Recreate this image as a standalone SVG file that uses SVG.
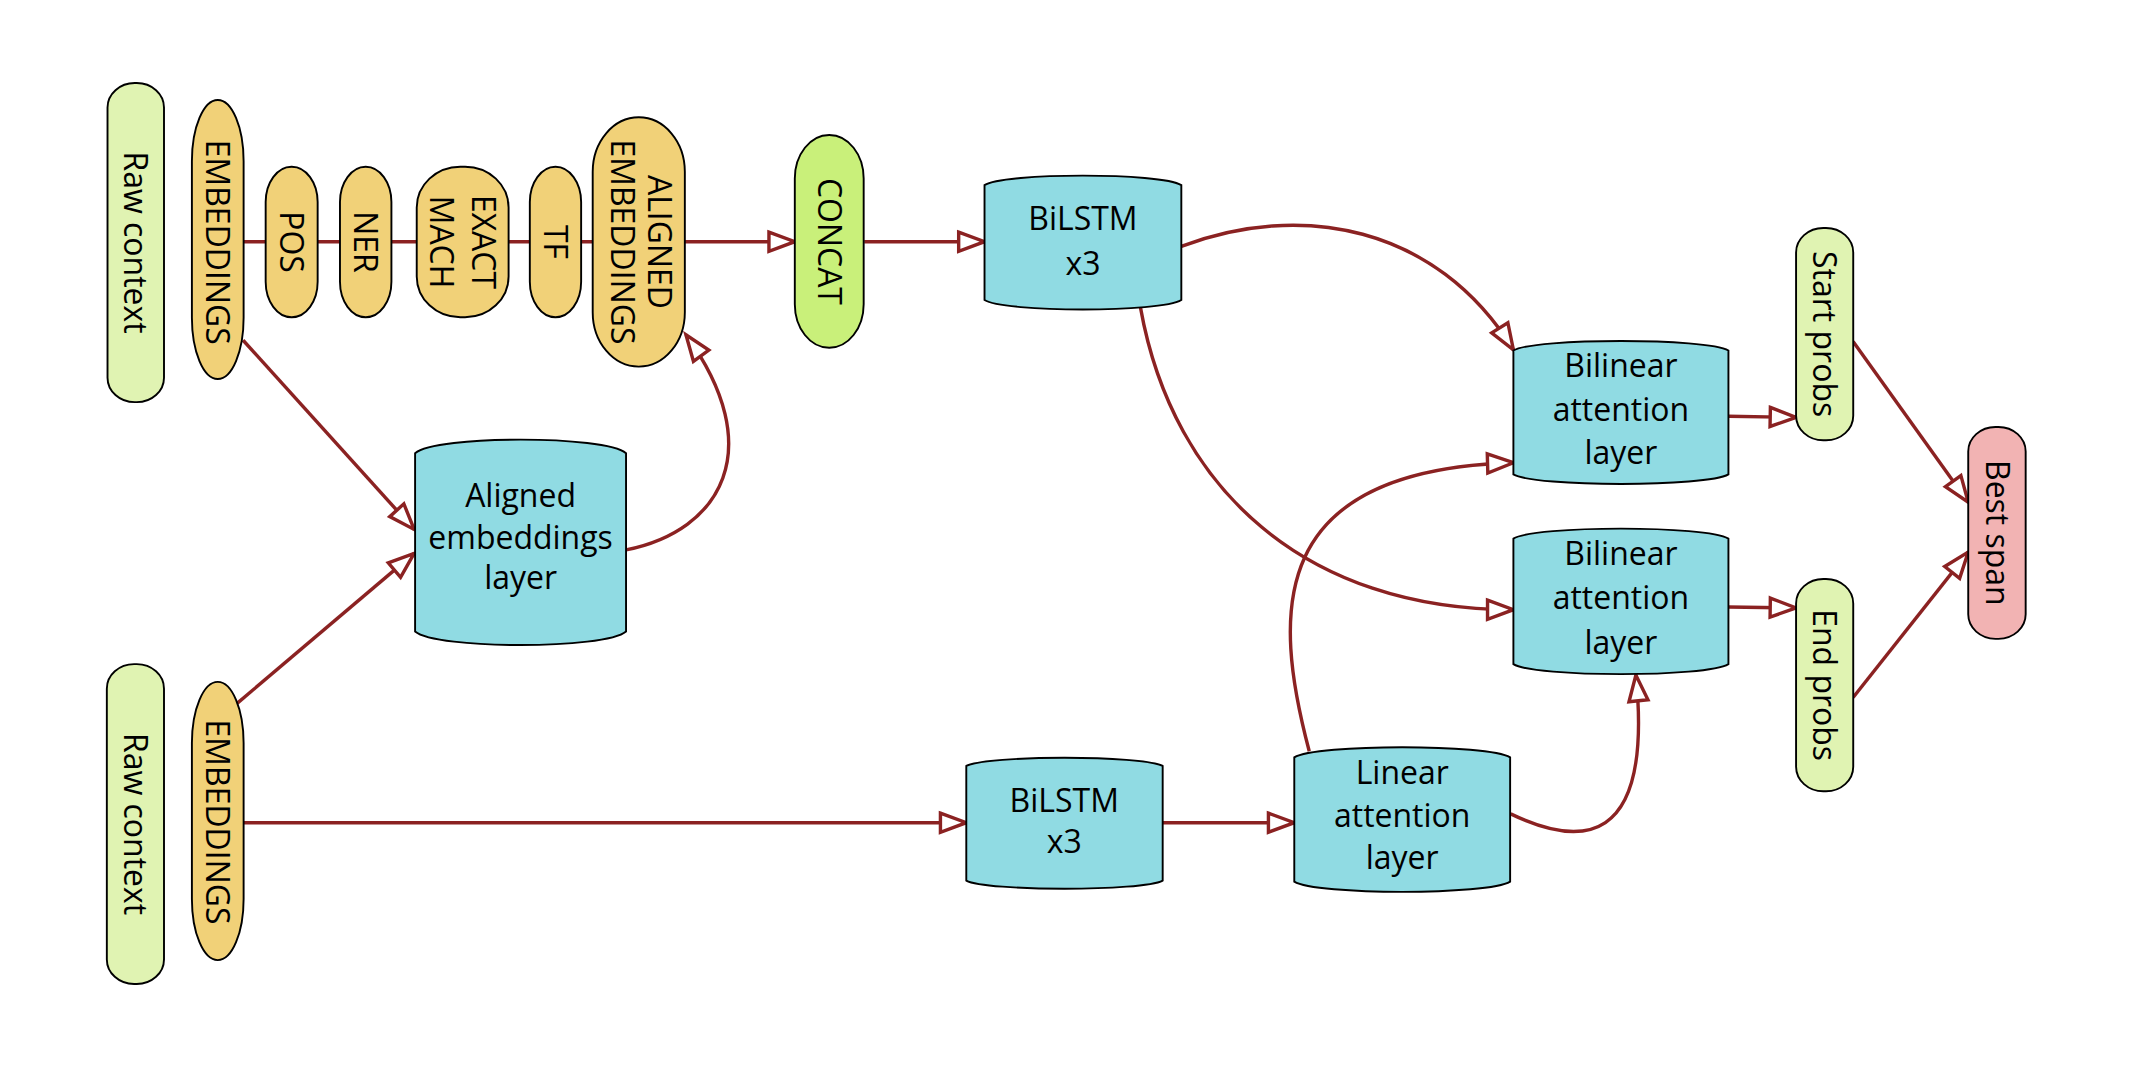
<svg xmlns="http://www.w3.org/2000/svg" width="2134" height="1067" viewBox="0 0 2134 1067">
<style>
.n{stroke:#000;stroke-width:1.4}
.g{fill:#e0f3b2}
.y{fill:#f1d178}
.c{fill:#90dbe3}
.cc{fill:#c9f07a}
.p{fill:#f2b3b3}
text{font-family:"Open Sans","Liberation Sans",sans-serif;font-size:23.5px;fill:#000;text-anchor:middle}
.e{fill:none;stroke:#8b2222;stroke-width:2.5}
</style>
<defs>
<marker id="a" markerUnits="userSpaceOnUse" markerWidth="24" markerHeight="16" viewBox="0 0 24 16" refX="21" refY="8" orient="auto" overflow="visible">
<path d="M2,1 L21,8 L2,15 Z" fill="#fff" stroke="#8b2222" stroke-width="2.5"/>
</marker>
</defs>
<rect width="2134" height="1067" fill="#fff"/>
<g transform="scale(1.36097)">
<g id="connectors">
<path class="e" d="M165,177.6 L584,177.6" marker-end="url(#a)"/>
<path class="e" d="M635,177.6 L723.4,177.6" marker-end="url(#a)"/>
<path class="e" d="M178.6,250 L304.3,389" marker-end="url(#a)"/>
<path class="e" d="M174,517 L304.3,406.6" marker-end="url(#a)"/>
<path class="e" d="M460,404 C530,390 565,330 504,246" marker-end="url(#a)"/>
<path class="e" d="M868,181 C955,148 1055,165 1112,257" marker-end="url(#a)"/>
<path class="e" d="M838,226 C862,360 960,448 1112,448" marker-end="url(#a)"/>
<path class="e" d="M178.8,604.5 L710,604.5" marker-end="url(#a)"/>
<path class="e" d="M854.3,604.5 L951,604.5" marker-end="url(#a)"/>
<path class="e" d="M962,552 C935,450 930,345 1112,340" marker-end="url(#a)"/>
<path class="e" d="M1110,598 C1160,622 1215,625 1202,496" marker-end="url(#a)"/>
<path class="e" d="M1270,305.8 L1319.7,306.7" marker-end="url(#a)"/>
<path class="e" d="M1270,446 L1319.7,446.7" marker-end="url(#a)"/>
<path class="e" d="M1361.6,251 L1446.2,369" marker-end="url(#a)"/>
<path class="e" d="M1361.6,512.5 L1446.2,405.7" marker-end="url(#a)"/>
</g>
<g id="raw-context-1"><rect class="n g" x="79" y="61" width="41.5" height="234.5" rx="20" ry="18"/><text transform="translate(99.7,178.2) rotate(90)" y="8.4">Raw context</text></g>
<g id="embeddings-1"><rect class="n y" x="141" y="73.5" width="38" height="205" rx="19" ry="45"/><text transform="translate(160,178) rotate(90)" y="8.4">EMBEDDINGS</text></g>
<g id="pos"><rect class="n y" x="195.2" y="122.5" width="38.2" height="110.6" rx="19" ry="26"/><text transform="translate(214.3,177.8) rotate(90)" y="8.4">POS</text></g>
<g id="ner"><rect class="n y" x="249.8" y="122.5" width="37.8" height="110.6" rx="19" ry="26"/><text transform="translate(268.7,177.8) rotate(90)" y="8.4">NER</text></g>
<g id="exact-mach"><rect class="n y" x="306.2" y="122.5" width="67.5" height="110.6" rx="32" ry="30"/><text transform="translate(340,177.8) rotate(90)"><tspan x="0" y="-6.6">EXACT</tspan><tspan x="0" y="24.1">MACH</tspan></text></g>
<g id="tf"><rect class="n y" x="389.3" y="122.5" width="37.7" height="110.6" rx="19" ry="26"/><text transform="translate(408.2,177.8) rotate(90)" y="8.4">TF</text></g>
<g id="aligned-embeddings"><rect class="n y" x="435.5" y="86.2" width="67.7" height="183.2" rx="34" ry="40"/><text transform="translate(469.3,177.8) rotate(90)"><tspan x="0" y="-7">ALIGNED</tspan><tspan x="0" y="20">EMBEDDINGS</tspan></text></g>
<g id="concat"><rect class="n cc" x="584" y="99.2" width="50.6" height="156.3" rx="25.3" ry="32"/><text transform="translate(609.3,177.4) rotate(90)" y="8.4">CONCAT</text></g>
<g id="bilstm-1"><path class="n c" d="M723.4,136 C738,126.7 853,126.7 868,136 L868,220.4 C853,229.7 738,229.7 723.4,220.4 Z"/><text x="795.7" y="169">BiLSTM</text><text x="795.7" y="202">x3</text></g>
<g id="aligned-embeddings-layer"><path class="n c" d="M305,333 C320.5,319.7 444.5,319.7 460,333 L460,464 C444.5,477.3 320.5,477.3 305,464 Z"/><text x="382.5" y="372.3">Aligned</text><text x="382.5" y="403.6">embeddings</text><text x="382.5" y="433">layer</text></g>
<g id="bilinear-1"><path class="n c" d="M1112,257.5 C1128,248.2 1254,248.2 1270,257.5 L1270,348.6 C1254,357.9 1128,357.9 1112,348.6 Z"/><text x="1191" y="276.9">Bilinear</text><text x="1191" y="309.5">attention</text><text x="1191" y="341">layer</text></g>
<g id="bilinear-2"><path class="n c" d="M1112,395.8 C1128,386 1254,386 1270,395.8 L1270,488 C1254,497.8 1128,497.8 1112,488 Z"/><text x="1191" y="415.5">Bilinear</text><text x="1191" y="447.8">attention</text><text x="1191" y="480.2">layer</text></g>
<g id="raw-context-2"><rect class="n g" x="78.5" y="488" width="42" height="235" rx="20" ry="18"/><text transform="translate(99.5,605.5) rotate(90)" y="8.4">Raw context</text></g>
<g id="embeddings-2"><rect class="n y" x="141" y="501" width="38" height="204.5" rx="19" ry="45"/><text transform="translate(160,604) rotate(90)" y="8.4">EMBEDDINGS</text></g>
<g id="bilstm-2"><path class="n c" d="M710,562.8 C724.5,554.8 839.8,554.8 854.3,562.8 L854.3,647 C839.8,655 724.5,655 710,647 Z"/><text x="782" y="596.4">BiLSTM</text><text x="782" y="627">x3</text></g>
<g id="linear-attention"><path class="n c" d="M951,556.5 C967,546.5 1093.6,546.5 1109.6,556.5 L1109.6,647.8 C1093.6,657.8 967,657.8 951,647.8 Z"/><text x="1030.3" y="576">Linear</text><text x="1030.3" y="607.4">attention</text><text x="1030.3" y="638.7">layer</text></g>
<g id="start-probs"><rect class="n g" x="1319.7" y="167.5" width="42" height="156" rx="20" ry="18"/><text transform="translate(1340.7,245.5) rotate(90)" y="8.4">Start probs</text></g>
<g id="end-probs"><rect class="n g" x="1319.7" y="425.4" width="42" height="156" rx="20" ry="18"/><text transform="translate(1340.7,503.4) rotate(90)" y="8.4">End probs</text></g>
<g id="best-span"><rect class="n p" x="1446.2" y="313.7" width="42.2" height="155.7" rx="20" ry="18"/><text transform="translate(1467.3,391.5) rotate(90)" y="8.4">Best span</text></g>
</g>
</svg>
